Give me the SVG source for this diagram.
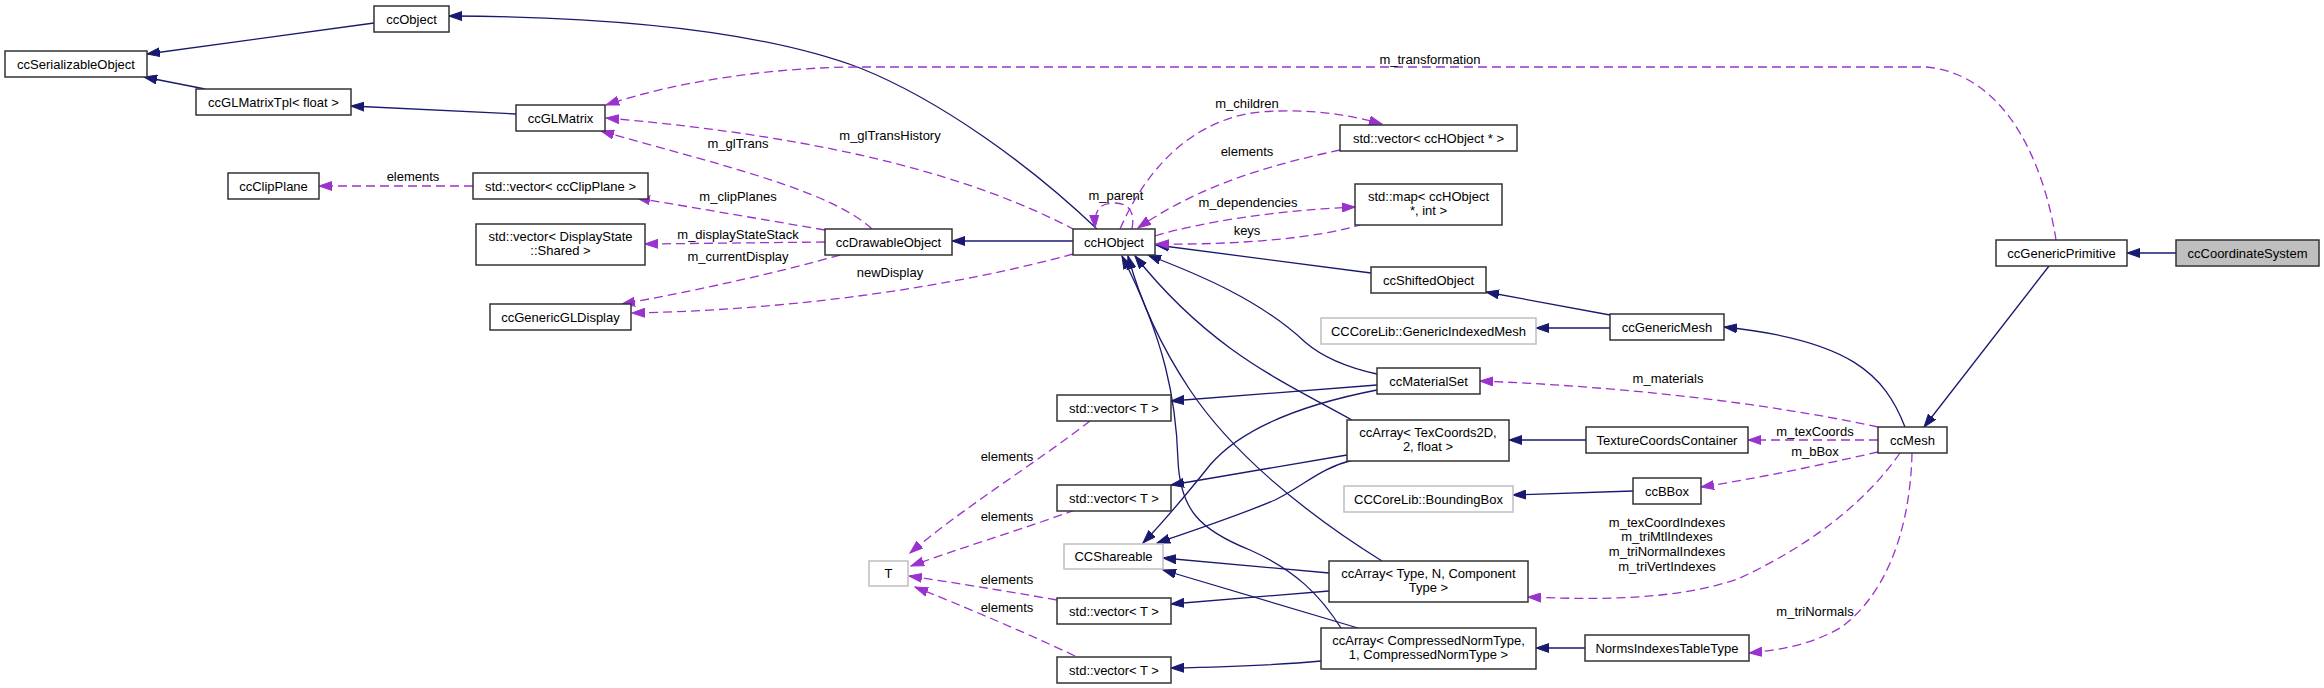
<svg xmlns="http://www.w3.org/2000/svg" width="2324" height="688" viewBox="0 0 2324 688">
<style>
.n rect{fill:#fff;stroke:#333;stroke-width:1.5}
.g rect{fill:#fff;stroke:#bfbfbf;stroke-width:1.5}
.hl rect{fill:#bfbfbf;stroke:#333;stroke-width:1.5}
text{font-family:"Liberation Sans",Arial,sans-serif;font-size:13px;fill:#000;text-anchor:middle}
.s{fill:none;stroke:#191970;stroke-width:1.3;marker-end:url(#as)}
.d{fill:none;stroke:#9a32cd;stroke-width:1.3;stroke-dasharray:9,5;marker-end:url(#ad)}
</style>
<defs>
<marker id="as" markerWidth="14" markerHeight="10" refX="13" refY="5" orient="auto" markerUnits="userSpaceOnUse"><path d="M0,0.5 L13,5 L0,9.5 z" fill="#191970" stroke="#191970" stroke-width="1"/></marker>
<marker id="ad" markerWidth="14" markerHeight="10" refX="13" refY="5" orient="auto" markerUnits="userSpaceOnUse"><path d="M0,0.5 L13,5 L0,9.5 z" fill="#9a32cd" stroke="#9a32cd" stroke-width="1"/></marker>
</defs>
<rect width="2324" height="688" fill="#fff"/>
<g id="connectors">
<path class="s" d="M374,23 L147,54"/>
<path class="s" d="M205,89 L144,77"/>
<path class="s" d="M516,114 L351,106"/>
<path class="s" d="M1097,229 C1030,165 940,100 860,68 C780,38 650,17 449,16"/>
<path class="s" d="M1073,241 L952,241"/>
<path class="s" d="M1371,273 L1156,245"/>
<path class="s" d="M1610,315 L1486,292"/>
<path class="s" d="M1610,328 L1536,328"/>
<path class="s" d="M1905,427 C1885,375 1850,340 1724,327"/>
<path class="s" d="M2049,266 L1924,427"/>
<path class="s" d="M2176,253 L2127,253"/>
<path class="s" d="M1377,374 C1340,366 1320,355 1305,342 C1260,300 1200,275 1148,255"/>
<path class="s" d="M1352,420 C1280,380 1210,350 1135,256"/>
<path class="s" d="M1382,561 C1300,510 1230,450 1190,390 C1160,345 1140,300 1128,256"/>
<path class="s" d="M1341,628 C1320,595 1295,570 1250,550 C1200,530 1180,510 1178,460 C1176,400 1165,340 1122,256"/>
<path class="s" d="M1377,385 L1171,401"/>
<path class="s" d="M1377,390 C1300,405 1240,430 1210,465 C1190,490 1170,515 1143,543"/>
<path class="s" d="M1347,455 L1171,485"/>
<path class="s" d="M1353,460 C1320,468 1305,485 1275,500 C1240,515 1195,530 1157,543"/>
<path class="s" d="M1329,591 L1171,604"/>
<path class="s" d="M1329,573 L1163,558"/>
<path class="s" d="M1321,661 C1280,665 1220,667 1171,668"/>
<path class="s" d="M1358,628 L1163,570"/>
<path class="s" d="M1586,440 L1509,440"/>
<path class="s" d="M1633,491 L1513,495"/>
<path class="s" d="M1585,648 L1536,648"/>

<path class="d" d="M2056,240 C2046,175 2012,75 1926,67 L860,67 C780,67 680,80 606,105"/>
<path class="d" d="M1075,230 C980,180 840,138 606,118"/>
<path class="d" d="M872,229 C830,190 720,165 601,131"/>
<path class="d" d="M825,230 L637,198"/>
<path class="d" d="M825,242 L645,244"/>
<path class="d" d="M840,255 C780,272 700,290 622,304"/>
<path class="d" d="M1073,254 C960,285 800,310 632,313"/>
<path class="d" d="M1132,229 C1136,208 1125,203 1114,203 C1100,203 1094,210 1095,228"/>
<path class="d" d="M1120,229 C1150,160 1200,118 1260,112 C1310,108 1350,115 1382,124"/>
<path class="d" d="M1340,150 C1270,165 1200,185 1138,228"/>
<path class="d" d="M1155,236 C1200,222 1280,210 1355,207"/>
<path class="d" d="M1363,224 C1320,238 1240,245 1156,244"/>
<path class="d" d="M473,186 L319,186"/>
<path class="d" d="M1090,421 C1040,460 960,510 910,553"/>
<path class="d" d="M1075,510 C1020,530 960,548 911,566"/>
<path class="d" d="M1057,600 C1000,590 950,582 909,576"/>
<path class="d" d="M1075,656 C1020,630 960,605 915,587"/>
<path class="d" d="M1878,427 C1800,410 1660,388 1480,381"/>
<path class="d" d="M1878,440 L1748,440"/>
<path class="d" d="M1878,452 C1820,465 1760,478 1701,487"/>
<path class="d" d="M1900,453 C1860,510 1800,550 1740,578 C1680,600 1600,600 1528,597"/>
<path class="d" d="M1912,453 C1910,540 1880,600 1840,628 C1810,645 1780,650 1749,653"/>

<text x="1430" y="63.5">m_transformation</text>
<text x="890" y="139.5">m_glTransHistory</text>
<text x="738" y="148">m_glTrans</text>
<text x="738" y="201">m_clipPlanes</text>
<text x="738" y="239">m_displayStateStack</text>
<text x="738" y="260.5">m_currentDisplay</text>
<text x="890" y="277">newDisplay</text>
<text x="1116" y="200">m_parent</text>
<text x="1247" y="108">m_children</text>
<text x="1247" y="156">elements</text>
<text x="1248" y="207">m_dependencies</text>
<text x="1247" y="235">keys</text>
<text x="413" y="181">elements</text>
<text x="1007" y="461">elements</text>
<text x="1007" y="521">elements</text>
<text x="1007" y="583.5">elements</text>
<text x="1007" y="612">elements</text>
<text x="1668" y="383">m_materials</text>
<text x="1815" y="435.5">m_texCoords</text>
<text x="1815" y="456">m_bBox</text>
<text x="1667" y="527">m_texCoordIndexes</text>
<text x="1667" y="541">m_triMtlIndexes</text>
<text x="1667" y="556">m_triNormalIndexes</text>
<text x="1667" y="570.5">m_triVertIndexes</text>
<text x="1815" y="616">m_triNormals</text>
</g>

<g id="ccObject" class="n"><rect x="374" y="6" width="75" height="26"/><text x="411.5" y="23.5">ccObject</text></g>
<g id="ccSerializableObject" class="n"><rect x="5" y="51" width="142" height="26"/><text x="76" y="68.5">ccSerializableObject</text></g>
<g id="ccGLMatrixTpl" class="n"><rect x="196" y="89" width="155" height="26"/><text x="273.5" y="106.5">ccGLMatrixTpl&lt; float &gt;</text></g>
<g id="ccGLMatrix" class="n"><rect x="516" y="105" width="89" height="26"/><text x="560.5" y="122.5">ccGLMatrix</text></g>
<g id="ccClipPlane" class="n"><rect x="228" y="173" width="91" height="26"/><text x="273.5" y="190.5">ccClipPlane</text></g>
<g id="vectorClipPlane" class="n"><rect x="473" y="173" width="175" height="26"/><text x="560.5" y="190.5">std::vector&lt; ccClipPlane &gt;</text></g>
<g id="vectorDisplayState" class="n"><rect x="476" y="224" width="169" height="41"/><text x="560.5" y="240.5">std::vector&lt; DisplayState</text><text x="560.5" y="255">::Shared &gt;</text></g>
<g id="ccGenericGLDisplay" class="n"><rect x="490" y="304" width="141" height="26"/><text x="560.5" y="321.5">ccGenericGLDisplay</text></g>
<g id="ccDrawableObject" class="n"><rect x="825" y="229" width="127" height="26"/><text x="888.5" y="246.5">ccDrawableObject</text></g>
<g id="ccHObject" class="n"><rect x="1073" y="229" width="82" height="26"/><text x="1114" y="246.5">ccHObject</text></g>
<g id="vectorHObject" class="n"><rect x="1340" y="125" width="177" height="26"/><text x="1428.5" y="142.5">std::vector&lt; ccHObject * &gt;</text></g>
<g id="mapHObject" class="n"><rect x="1355" y="184" width="147" height="41"/><text x="1428.5" y="200.5">std::map&lt; ccHObject</text><text x="1428.5" y="215">*, int &gt;</text></g>
<g id="ccShiftedObject" class="n"><rect x="1371" y="267" width="115" height="26"/><text x="1428.5" y="284.5">ccShiftedObject</text></g>
<g id="GenericIndexedMesh" class="g"><rect x="1321" y="318" width="215" height="26"/><text x="1428.5" y="335.5">CCCoreLib::GenericIndexedMesh</text></g>
<g id="ccGenericMesh" class="n"><rect x="1610" y="314" width="114" height="26"/><text x="1667" y="331.5">ccGenericMesh</text></g>
<g id="ccGenericPrimitive" class="n"><rect x="1996" y="240" width="131" height="26"/><text x="2061.5" y="257.5">ccGenericPrimitive</text></g>
<g id="ccCoordinateSystem" class="hl"><rect x="2176" y="240" width="143" height="26"/><text x="2247.5" y="257.5">ccCoordinateSystem</text></g>
<g id="ccMesh" class="n"><rect x="1878" y="427" width="69" height="26"/><text x="1912.5" y="444.5">ccMesh</text></g>
<g id="ccMaterialSet" class="n"><rect x="1377" y="368" width="103" height="26"/><text x="1428.5" y="385.5">ccMaterialSet</text></g>
<g id="ccArrayTexCoords" class="n"><rect x="1347" y="420" width="162" height="41"/><text x="1428" y="436.5">ccArray&lt; TexCoords2D,</text><text x="1428" y="451">2, float &gt;</text></g>
<g id="TextureCoordsContainer" class="n"><rect x="1586" y="427" width="162" height="26"/><text x="1667" y="444.5">TextureCoordsContainer</text></g>
<g id="BoundingBox" class="g"><rect x="1344" y="486" width="169" height="26"/><text x="1428.5" y="503.5">CCCoreLib::BoundingBox</text></g>
<g id="ccBBox" class="n"><rect x="1633" y="478" width="68" height="26"/><text x="1667" y="495.5">ccBBox</text></g>
<g id="ccArrayType" class="n"><rect x="1329" y="561" width="199" height="41"/><text x="1428.5" y="577.5">ccArray&lt; Type, N, Component</text><text x="1428.5" y="592">Type &gt;</text></g>
<g id="ccArrayCompressed" class="n"><rect x="1321" y="628" width="215" height="41"/><text x="1428.5" y="644.5">ccArray&lt; CompressedNormType,</text><text x="1428.5" y="659">1, CompressedNormType &gt;</text></g>
<g id="NormsIndexesTableType" class="n"><rect x="1585" y="635" width="164" height="26"/><text x="1667" y="652.5">NormsIndexesTableType</text></g>
<g id="vectorT1" class="n"><rect x="1057" y="395" width="114" height="26"/><text x="1114" y="412.5">std::vector&lt; T &gt;</text></g>
<g id="vectorT2" class="n"><rect x="1057" y="485" width="114" height="26"/><text x="1114" y="502.5">std::vector&lt; T &gt;</text></g>
<g id="vectorT3" class="n"><rect x="1057" y="598" width="114" height="26"/><text x="1114" y="615.5">std::vector&lt; T &gt;</text></g>
<g id="vectorT4" class="n"><rect x="1057" y="657" width="114" height="26"/><text x="1114" y="674.5">std::vector&lt; T &gt;</text></g>
<g id="CCShareable" class="g"><rect x="1064" y="544" width="99" height="25"/><text x="1113.5" y="561">CCShareable</text></g>
<g id="T" class="g"><rect x="869" y="561" width="39" height="25"/><text x="888.5" y="578">T</text></g>
</svg>
